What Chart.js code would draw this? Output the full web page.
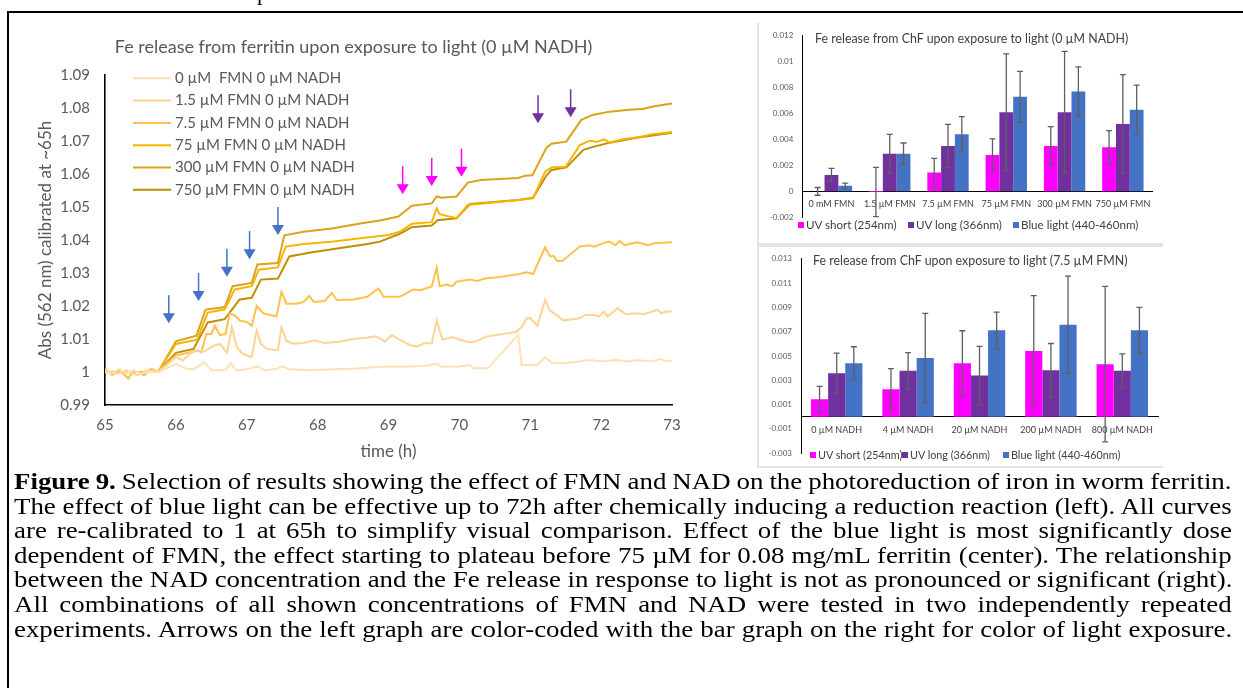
<!DOCTYPE html>
<html lang="en">
<head>
<meta charset="utf-8">
<title>Fe release from ferritin</title>
<script src="https://cdn.jsdelivr.net/npm/chart.js@4.4.1/dist/chart.umd.min.js"></script>
<style>
  html, body { margin: 0; padding: 0; background: #fff; }
  body { position: relative; width: 1243px; height: 688px; overflow: hidden; font-family: Lato, sans-serif; }
  canvas { position: absolute; }
  .frame { position: absolute; left: 7px; top: 11px; width: 1300px; height: 720px; border-top: 2px solid #000; border-left: 2px solid #000; }
  .panel { position: absolute; left: 757px; width: 406px; box-sizing: border-box; border-left: 2px solid #e3e3e3; border-bottom: 2px solid #e3e3e3; }
  .bar-title { position: absolute; font-size: 12.4px; line-height: 14px; color: #404040; white-space: nowrap; }
  .key { position: absolute; font-size: 11.6px; line-height: 14px; color: #404040; white-space: nowrap; }
  .key.small { font-size: 10.8px; }
  .key i { display: inline-block; width: 6px; height: 6px; margin-right: 2px; vertical-align: 1px; }
  .caption { position: absolute; left: 14px; top: 469px; font-family: 'Liberation Serif', serif; font-size: 24px; line-height: 24.6px; color: #000; transform: scaleX(1.12); transform-origin: 0 0; }
  .caption div { white-space: nowrap; }
  .cut { position: absolute; left: 257px; top: -18px; font: 22px/22px 'Liberation Serif', serif; }
</style>
</head>
<body>
<div class="cut">p</div>
<div class="frame"></div>

<canvas id="lineChart" width="722" height="470" style="left:0;top:0"></canvas>

<div class="panel" style="top:23px;height:222px"></div>
<div class="panel" style="top:245px;height:223px;border-top:2px solid #e3e3e3"></div>
<canvas id="fmnChart" width="406" height="221" style="left:757px;top:22px"></canvas>
<canvas id="nadhChart" width="406" height="222" style="left:757px;top:245px"></canvas>

<div class="bar-title" style="left:815px;top:32px">Fe release from ChF upon exposure to light (0 µM NADH)</div>
<div class="key" style="left:798px;top:218px"><i style="background:#ff00ff"></i>UV short (254nm)</div>
<div class="key" style="left:908px;top:218px"><i style="background:#7030a0"></i>UV long (366nm)</div>
<div class="key" style="left:1013px;top:218px"><i style="background:#4472c4"></i>Blue light (440-460nm)</div>

<div class="bar-title" style="left:813px;top:254px">Fe release from ChF upon exposure to light (7.5 µM FMN)</div>
<div class="key small" style="left:810px;top:448px"><i style="background:#ff00ff"></i>UV short (254nm)</div>
<div class="key small" style="left:902px;top:448px"><i style="background:#7030a0"></i>UV long (366nm)</div>
<div class="key small" style="left:1003px;top:448px"><i style="background:#4472c4"></i>Blue light (440-460nm)</div>

<div class="caption">
  <div><span><b>Figure 9.</b> Selection of results showing the effect of FMN and NAD on the photoreduction of iron in worm ferritin.</span></div>
  <div><span>The effect of blue light can be effective up to 72h after chemically inducing a reduction reaction (left). All curves</span></div>
  <div><span>are re-calibrated to 1 at 65h to simplify visual comparison. Effect of the blue light is most significantly dose</span></div>
  <div><span>dependent of FMN, the effect starting to plateau before 75 µM for 0.08 mg/mL ferritin (center). The relationship</span></div>
  <div><span>between the NAD concentration and the Fe release in response to light is not as pronounced or significant (right).</span></div>
  <div><span>All combinations of all shown concentrations of FMN and NAD were tested in two independently repeated</span></div>
  <div><span>experiments. Arrows on the left graph are color-coded with the bar graph on the right for color of light exposure.</span></div>
</div>

<script>
// time course, Abs(562 nm) recalibrated to 1 at 65 h, pairs of [hours, abs]
const fmn0 = [[65.0,1.0],[65.1,0.9995],[65.2,1.001],[65.3,0.9995],[65.4,1.0005],[65.5,0.9995],[65.6,1.0],[65.75,1.0],
  [66.0,1.0025],[66.15,1.001],[66.25,1.0008],[66.4,1.003],[66.5,1.0005],[66.7,1.0005],[66.78,1.0027],[66.85,1.0005],
  [67.0,1.0008],[67.15,1.0017],[67.25,1.0005],[67.4,1.0008],[67.5,1.0017],[67.6,1.0008],[67.9,1.0005],[68.2,1.0008],
  [68.5,1.001],[68.88,1.0016],[69.2,1.0016],[69.5,1.0018],[69.68,1.0025],[69.75,1.0016],[70.0,1.0017],[70.15,1.0021],
  [70.2,1.0011],[70.4,1.0011],[70.83,1.0112],[70.88,1.0021],[71.1,1.0021],[71.21,1.0045],[71.3,1.0028],[71.45,1.0026],
  [71.84,1.0036],[72.0,1.0032],[72.2,1.0036],[72.4,1.0032],[72.5,1.0036],[72.7,1.0032],[72.85,1.0039],[72.9,1.0032],[73.0,1.0035]];
const fmn1_5 = [[65.0,1.0005],[65.15,0.9995],[65.3,1.0005],[65.45,0.999],[65.6,1.0005],[65.75,1.0],[66.0,1.0045],
  [66.1,1.0035],[66.2,1.0056],[66.3,1.0066],[66.4,1.0062],[66.5,1.0076],[66.62,1.0086],[66.72,1.0058],[66.79,1.0136],
  [66.86,1.0075],[66.93,1.0058],[67.0,1.005],[67.07,1.0045],[67.14,1.0126],[67.2,1.0085],[67.28,1.007],[67.36,1.0068],
  [67.44,1.0066],[67.49,1.0136],[67.56,1.0095],[67.65,1.0086],[67.8,1.0088],[67.95,1.0096],[68.1,1.0088],[68.3,1.0092],
  [68.5,1.01],[68.7,1.0104],[68.8,1.0108],[68.88,1.0102],[68.95,1.0092],[69.05,1.0112],[69.12,1.0102],[69.3,1.0082],
  [69.4,1.0077],[69.5,1.0087],[69.61,1.0087],[69.68,1.0156],[69.76,1.0098],[69.9,1.0106],[70.1,1.0092],[70.2,1.009],
  [70.39,1.0108],[70.8,1.0121],[70.88,1.0137],[70.95,1.0163],[71.0,1.0163],[71.1,1.014],[71.21,1.0218],[71.28,1.0186],
  [71.4,1.0168],[71.46,1.0156],[71.7,1.0163],[71.78,1.0173],[71.9,1.0173],[71.97,1.0168],[72.04,1.0183],[72.09,1.0168],
  [72.23,1.0193],[72.35,1.0175],[72.5,1.0178],[72.6,1.0175],[72.79,1.0188],[72.85,1.0178],[72.92,1.0183],[73.0,1.0183]];
const fmn7_5 = [[65.0,1.001],[65.1,0.999],[65.2,1.0005],[65.33,0.998],[65.4,1.0005],[65.55,0.999],[65.65,1.001],[65.75,1.0],
  [66.0,1.005],[66.2,1.006],[66.3,1.0065],[66.36,1.006],[66.43,1.0115],[66.5,1.0115],[66.55,1.014],[66.62,1.0112],
  [66.7,1.0115],[66.76,1.0177],[66.83,1.0172],[66.9,1.0156],[67.0,1.0152],[67.07,1.014],[67.14,1.02],[67.24,1.0177],
  [67.35,1.0172],[67.42,1.0169],[67.49,1.0242],[67.56,1.0207],[67.7,1.0207],[67.8,1.0212],[67.88,1.023],[67.95,1.0212],
  [68.1,1.0215],[68.2,1.024],[68.27,1.0218],[68.5,1.022],[68.7,1.0228],[68.86,1.0253],[68.93,1.0228],[69.16,1.0228],
  [69.35,1.025],[69.45,1.0248],[69.61,1.0259],[69.68,1.0317],[69.72,1.026],[69.82,1.0265],[69.9,1.026],[69.96,1.0274],
  [70.15,1.028],[70.25,1.0276],[70.36,1.0283],[70.5,1.0286],[70.85,1.0297],[70.95,1.0302],[71.04,1.0297],[71.21,1.0378],
  [71.28,1.035],[71.33,1.0352],[71.38,1.0336],[71.45,1.0336],[71.7,1.038],[71.84,1.0384],[71.9,1.038],[72.05,1.0392],
  [72.12,1.0395],[72.2,1.0384],[72.26,1.0397],[72.33,1.0384],[72.5,1.0393],[72.6,1.0388],[72.66,1.0384],[72.75,1.039],[73.0,1.0393]];
const fmn75 = [[65.0,1.0],[65.75,1.0],[66.0,1.0085],[66.3,1.0098],[66.45,1.018],[66.69,1.019],[66.83,1.025],[67.07,1.026],
  [67.17,1.031],[67.44,1.0317],[67.55,1.038],[67.8,1.0388],[68.2,1.0395],[68.6,1.0405],[69.0,1.0415],[69.16,1.0425],
  [69.33,1.0449],[69.61,1.0454],[69.68,1.0496],[69.72,1.0478],[69.96,1.0466],[70.12,1.0506],[70.3,1.051],[70.83,1.0521],
  [71.04,1.0526],[71.21,1.0607],[71.3,1.062],[71.5,1.0622],[71.7,1.0688],[71.84,1.0701],[71.95,1.0698],[72.04,1.0705],
  [72.12,1.0695],[72.3,1.0705],[72.55,1.0712],[72.7,1.072],[73.0,1.0727]];
const fmn300 = [[65.0,1.0],[65.75,1.0],[66.0,1.0093],[66.29,1.011],[66.42,1.0189],[66.69,1.0197],[66.8,1.026],[67.07,1.027],
  [67.15,1.0326],[67.44,1.033],[67.53,1.0414],[67.8,1.0425],[68.2,1.0435],[68.6,1.045],[68.88,1.0459],[69.14,1.0471],
  [69.33,1.0504],[69.61,1.0511],[69.68,1.0532],[69.75,1.0528],[69.96,1.0532],[70.12,1.0574],[70.3,1.0582],[70.83,1.0588],
  [70.93,1.0595],[71.03,1.0596],[71.23,1.068],[71.3,1.0692],[71.51,1.0698],[71.72,1.0764],[71.88,1.0779],[72.12,1.0789],
  [72.4,1.0795],[72.6,1.0798],[72.75,1.0805],[73.0,1.0814]];
const fmn750 = [[65.0,1.0],[65.75,1.0],[66.0,1.0058],[66.25,1.007],[66.45,1.015],[66.69,1.016],[66.9,1.022],[67.07,1.0225],
  [67.2,1.028],[67.44,1.0283],[67.6,1.035],[67.9,1.0362],[68.3,1.0375],[68.7,1.0388],[68.88,1.0395],[69.16,1.0419],
  [69.33,1.0439],[69.61,1.0444],[69.69,1.046],[69.96,1.0466],[70.15,1.0509],[70.83,1.0521],[71.04,1.0528],[71.23,1.0596],
  [71.3,1.0612],[71.51,1.062],[71.75,1.0673],[71.85,1.068],[72.12,1.0695],[72.5,1.071],[73.0,1.0725]];

const seriesLabels = ['0 µM  FMN 0 µM NADH', '1.5 µM FMN 0 µM NADH', '7.5 µM FMN 0 µM NADH',
  '75 µM FMN 0 µM NADH', '300 µM FMN 0 µM NADH', '750 µM FMN 0 µM NADH'];

// light exposures: time (h) and the value the arrow tip points at
const blueTimes = [65.9, 66.32, 66.72, 67.04, 67.44];
const blueTips = [1.0148, 1.0215, 1.0289, 1.0342, 1.0415];
const uvShortTimes = [69.2, 69.61, 70.03];
const uvShortTips = [1.0539, 1.0564, 1.0592];
const uvLongTimes = [71.11, 71.57];
const uvLongTips = [1.0754, 1.0772];

// delta Abs(562 nm) per light source, with error (+/-)
const fmnLabels = ['0 mM FMN', '1.5 µM FMN', '7.5 µM FMN', '75 µM FMN', '300 µM FMN', '750 µM FMN'];
const uvShortFmn = [0, -0.00005, 0.00145, 0.0028, 0.0035, 0.0034];
const uvShortFmnErr = [0.0003, 0.0019, 0.0011, 0.00125, 0.0015, 0.00128];
const uvLongFmn = [0.00127, 0.0029, 0.0035, 0.0061, 0.0061, 0.0052];
const uvLongFmnErr = [0.0005, 0.0015, 0.00167, 0.0045, 0.0047, 0.0038];
const blueFmn = [0.00043, 0.0029, 0.0044, 0.0073, 0.0077, 0.0063];
const blueFmnErr = [0.0002, 0.00083, 0.00136, 0.00196, 0.0019, 0.0019];

const nadhLabels = ['0 µM NADH', '4 µM NADH', '20 µM NADH', '200 µM NADH', '800 µM NADH'];
const uvShortNadh = [0.00145, 0.00226, 0.00441, 0.00542, 0.00433];
const uvShortNadhErr = [0.00105, 0.0017, 0.00267, 0.00455, 0.0064];
const uvLongNadh = [0.00358, 0.00378, 0.0034, 0.00383, 0.00378];
const uvLongNadhErr = [0.00165, 0.0015, 0.0024, 0.0022, 0.0014];
const blueNadh = [0.00441, 0.00484, 0.00711, 0.00757, 0.00711];
const blueNadhErr = [0.00135, 0.00367, 0.0015, 0.004, 0.0019];

const lineColors = ['#ffe1b5', '#ffd393', '#ffc14d', '#f7b500', '#dba31a', '#bf8f00'];
const PINK = '#ff00ff', PURPLE = '#7030a0', BLUE = '#4472c4';
const GREY = '#595959';

Chart.defaults.font.family = 'Lato, sans-serif';
Chart.defaults.color = GREY;

// legend drawn inside the plot, top left
const inlineLegend = {
    id: 'inlineLegend',
    afterDatasetsDraw(chart, args, opts) {
        const { ctx, chartArea } = chart;
        ctx.save();
        ctx.font = opts.font;
        ctx.textBaseline = 'middle';
        chart.data.datasets.forEach(function (ds, i) {
            const x = chartArea.left + opts.left;
            const y = chartArea.top + opts.top + i * opts.rowHeight;
            ctx.strokeStyle = ds.borderColor;
            ctx.lineWidth = 2;
            ctx.beginPath();
            ctx.moveTo(x, y);
            ctx.lineTo(x + opts.lineLength, y);
            ctx.stroke();
            ctx.fillStyle = opts.color;
            ctx.fillText(ds.label, x + opts.lineLength + opts.gap, y);
        });
        ctx.restore();
    }
};

// down arrows marking when the light was switched on
const lightArrows = {
    id: 'lightArrows',
    afterDatasetsDraw(chart, args, opts) {
        const { ctx, scales: { x, y } } = chart;
        ctx.save();
        opts.groups.forEach(function (g) {
            g.times.forEach(function (t, k) {
                const px = x.getPixelForValue(t);
                const tip = y.getPixelForValue(g.tips[k]);
                ctx.strokeStyle = g.color;
                ctx.fillStyle = g.color;
                ctx.lineWidth = 1.5;
                ctx.beginPath();
                ctx.moveTo(px, tip - opts.length);
                ctx.lineTo(px, tip - opts.head + 1);
                ctx.stroke();
                ctx.beginPath();
                ctx.moveTo(px - opts.headWidth / 2, tip - opts.head);
                ctx.lineTo(px + opts.headWidth / 2, tip - opts.head);
                ctx.lineTo(px, tip);
                ctx.closePath();
                ctx.fill();
            });
        });
        ctx.restore();
    }
};

// symmetric error bars on top of each bar
const errorBars = {
    id: 'errorBars',
    afterDatasetsDraw(chart, args, opts) {
        const { ctx, scales: { y } } = chart;
        ctx.save();
        ctx.strokeStyle = opts.color;
        ctx.lineWidth = opts.width;
        chart.data.datasets.forEach(function (ds, i) {
            chart.getDatasetMeta(i).data.forEach(function (bar, j) {
                const top = y.getPixelForValue(ds.data[j] + ds.errors[j]);
                const bottom = y.getPixelForValue(ds.data[j] - ds.errors[j]);
                ctx.beginPath();
                ctx.moveTo(bar.x, top);
                ctx.lineTo(bar.x, bottom);
                ctx.moveTo(bar.x - opts.cap, top);
                ctx.lineTo(bar.x + opts.cap, top);
                ctx.moveTo(bar.x - opts.cap, bottom);
                ctx.lineTo(bar.x + opts.cap, bottom);
                ctx.stroke();
            });
        });
        ctx.restore();
    }
};

const toPoints = arr => arr.map(p => ({ x: p[0], y: p[1] }));
const series = [fmn0, fmn1_5, fmn7_5, fmn75, fmn300, fmn750];

new Chart(document.getElementById('lineChart'), {
    type: 'line',
    data: {
        datasets: series.map((s, i) => ({
            label: seriesLabels[i],
            data: toPoints(s),
            borderColor: lineColors[i],
            borderWidth: 2,
            pointRadius: 0,
            tension: 0
        }))
    },
    options: {
        responsive: false,
        animation: false,
        layout: { padding: { left: 35, right: 50 } },
        plugins: {
            legend: { display: false },
            tooltip: { enabled: false },
            title: {
                display: true,
                text: 'Fe release from ferritin upon exposure to light (0 µM NADH)',
                color: GREY,
                font: { size: 18, weight: 'normal' },
                padding: { top: 36.2, bottom: 17.2 }
            },
            inlineLegend: { left: 28, top: 3.3, rowHeight: 22.3, lineLength: 38, gap: 4, font: '15px Lato', color: GREY },
            lightArrows: {
                length: 28, head: 10, headWidth: 12,
                groups: [
                    { times: blueTimes, tips: blueTips, color: BLUE },
                    { times: uvShortTimes, tips: uvShortTips, color: PINK },
                    { times: uvLongTimes, tips: uvLongTips, color: PURPLE }
                ]
            }
        },
        scales: {
            x: {
                type: 'linear',
                min: 65,
                max: 73,
                afterFit: s => { s.height = 65; },
                ticks: { stepSize: 1, padding: 11, font: { size: 15 } },
                grid: { display: false, drawTicks: false },
                border: { color: '#000', width: 1.6 },
                title: { display: true, text: 'time (h)', font: { size: 17 }, padding: { bottom: 7.8 } }
            },
            y: {
                min: 0.99,
                max: 1.09,
                afterFit: s => { s.width = 70; },
                ticks: { stepSize: 0.01, padding: 15, font: { size: 15 }, callback: v => String(+v.toFixed(2)) },
                grid: { display: false, drawTicks: false },
                border: { color: '#000', width: 1.6 },
                title: { display: true, text: 'Abs (562 nm) calibrated at ~65h', font: { size: 17 }, padding: 0 }
            }
        }
    },
    plugins: [inlineLegend, lightArrows]
});

function barChart(id, labels, sets, yMin, yMax, axisWidth, padding, catPct, tickPad) {
    return new Chart(document.getElementById(id), {
        type: 'bar',
        data: {
            labels: labels,
            datasets: sets.map(s => ({
                label: s.label,
                data: s.data,
                errors: s.errors,
                backgroundColor: s.color,
                borderWidth: 0,
                barPercentage: 1,
                categoryPercentage: catPct
            }))
        },
        options: {
            responsive: false,
            animation: false,
            layout: { padding: padding },
            plugins: {
                legend: { display: false },
                tooltip: { enabled: false },
                errorBars: { color: '#5f5f5f', width: 1.3, cap: 3 }
            },
            scales: {
                x: {
                    position: { y: 0 },
                    afterFit: s => { s.height = 0; },
                    ticks: { padding: tickPad, font: { size: 9 }, color: '#404040', autoSkip: false, maxRotation: 0 },
                    grid: { display: false, drawTicks: false },
                    border: { color: '#000', width: 1 }
                },
                y: {
                    min: yMin,
                    max: yMax,
                    afterFit: s => { s.width = axisWidth; },
                    ticks: { stepSize: 0.002, padding: 9, font: { size: 8 }, autoSkip: false, callback: v => String(+v.toFixed(3)) },
                    grid: { display: false, drawTicks: false },
                    border: { color: '#000', width: 1 }
                }
            }
        },
        plugins: [errorBars]
    });
}

barChart('fmnChart', fmnLabels, [
    { label: 'UV short (254nm)', data: uvShortFmn, errors: uvShortFmnErr, color: PINK },
    { label: 'UV long (366nm)', data: uvLongFmn, errors: uvLongFmnErr, color: PURPLE },
    { label: 'Blue light (440-460nm)', data: blueFmn, errors: blueFmnErr, color: BLUE }
], -0.002, 0.012, 45.3, { top: 11.3, right: 11, bottom: 25.7 }, 0.71, 7);

barChart('nadhChart', nadhLabels, [
    { label: 'UV short (254nm)', data: uvShortNadh, errors: uvShortNadhErr, color: PINK },
    { label: 'UV long (366nm)', data: uvLongNadh, errors: uvLongNadhErr, color: PURPLE },
    { label: 'Blue light (440-460nm)', data: blueNadh, errors: blueNadhErr, color: BLUE }
], -0.003, 0.013, 44, { top: 6.7, right: 5, bottom: 4.8 }, 0.72, 7.5);

// justify every caption line to the same width by stretching word gaps
const captionScale = 1.12;
const captionWidth = 1218 / captionScale;
document.querySelectorAll('.caption span').forEach(function (span) {
    const gaps = (span.textContent.match(/ /g) || []).length;
    const extra = captionWidth - span.offsetWidth;
    span.style.wordSpacing = (extra / gaps) + 'px';
});
</script>
</body>
</html>
